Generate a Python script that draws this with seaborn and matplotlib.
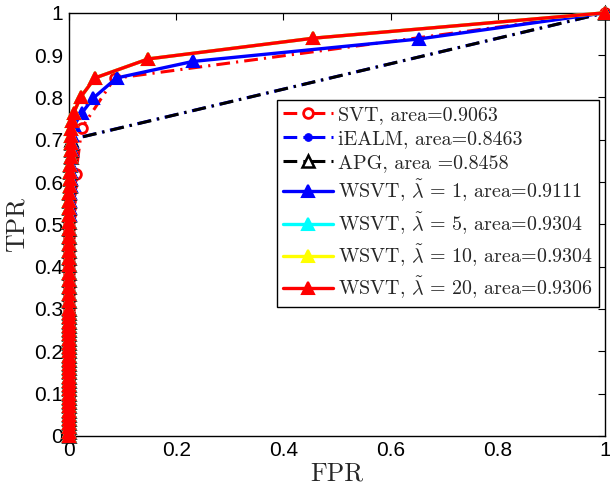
import matplotlib
matplotlib.use("Agg")
import matplotlib.pyplot as plt
import seaborn as sns

# ---------------- data ----------------
stack_tpr = [0.0, 0.01, 0.02, 0.03, 0.04, 0.05, 0.06, 0.07, 0.08, 0.09,
             0.10, 0.11, 0.12, 0.13, 0.14, 0.15, 0.16, 0.17, 0.18, 0.19,
             0.20, 0.21, 0.22, 0.23, 0.24, 0.25, 0.26, 0.27, 0.28, 0.29,
             0.30, 0.318, 0.335, 0.352, 0.369, 0.386, 0.403, 0.420, 0.437,
             0.454, 0.471, 0.488, 0.505, 0.522, 0.539, 0.556, 0.573, 0.590,
             0.607, 0.624, 0.641, 0.658, 0.675, 0.692]
stack_fpr_a = [0.0] * 40 + [0.0, 0.0, 0.001, 0.001, 0.001, 0.001, 0.001,
                            0.002, 0.002, 0.002, 0.002, 0.003, 0.003, 0.003]
stack_fpr_b = [0.0] * 40 + [0.001, 0.001, 0.001, 0.002, 0.002, 0.002, 0.002,
                            0.003, 0.003, 0.003, 0.004, 0.004, 0.005, 0.005]

svt_fpr = stack_fpr_b[:50] + [0.013, 0.024, 0.085, 1.0]
svt_tpr = stack_tpr[:50] + [0.62, 0.728, 0.845, 1.0]

iealm_fpr = stack_fpr_a + [0.002, 1.0]
iealm_tpr = stack_tpr + [0.70, 1.0]

apg_fpr = stack_fpr_a + [0.003, 1.0]
apg_tpr = stack_tpr + [0.70, 1.0]

wsvt1_fpr = stack_fpr_b + [0.006, 0.010, 0.024, 0.045, 0.089, 0.231, 0.652, 1.0]
wsvt1_tpr = stack_tpr + [0.712, 0.735, 0.763, 0.798, 0.846, 0.885, 0.938, 1.0]

wsvt20_fpr = stack_fpr_a + [0.003, 0.004, 0.006, 0.009, 0.022, 0.0485, 0.148, 0.456, 1.0]
wsvt20_tpr = stack_tpr + [0.709, 0.726, 0.744, 0.764, 0.801, 0.846, 0.891, 0.940, 1.0]

wsvt5_fpr = wsvt20_fpr
wsvt5_tpr = wsvt20_tpr
wsvt10_fpr = wsvt20_fpr
wsvt10_tpr = wsvt20_tpr

labels = [
    "SVT, area=0.9063",
    "iEALM, area=0.8463",
    "APG, area =0.8458",
    r"WSVT, $\tilde{\lambda}$ = 1, area=0.9111",
    r"WSVT, $\tilde{\lambda}$ = 5, area=0.9304",
    r"WSVT, $\tilde{\lambda}$ = 10, area=0.9304",
    r"WSVT, $\tilde{\lambda}$ = 20, area=0.9306",
]
xtick_vals = [0, 0.2, 0.4, 0.6, 0.8, 1]
xtick_labels = ["0", "0.2", "0.4", "0.6", "0.8", "1"]
ytick_vals = [0, 0.1, 0.2, 0.3, 0.4, 0.5, 0.6, 0.7, 0.8, 0.9, 1]
ytick_labels = ["0", "0.1", "0.2", "0.3", "0.4", "0.5", "0.6", "0.7", "0.8", "0.9", "1"]

# ---------------- style ----------------
sns.set_style("white")
plt.rcParams["font.family"] = ["Liberation Sans", "DejaVu Sans"]
plt.rcParams["mathtext.fontset"] = "cm"

fig = plt.figure(figsize=(6.1, 4.92), dpi=100)
ax = fig.add_axes([0.113, 0.114, 0.879, 0.86])

dashdot = (4.5, 2.0, 0.7, 2.0)
series = [
    (svt_fpr, svt_tpr, dict(color="red", dashes=dashdot, linewidth=2.2, marker="o",
                            markersize=7, markerfacecolor="white", markeredgecolor="red",
                            markeredgewidth=2)),
    (iealm_fpr, iealm_tpr, dict(color="blue", dashes=dashdot, linewidth=2.2, marker="o",
                                markersize=5.5, markerfacecolor="blue", markeredgecolor="blue")),
    (apg_fpr, apg_tpr, dict(color="black", dashes=dashdot, linewidth=2.2, marker="^",
                            markersize=8, markerfacecolor="white", markeredgecolor="black",
                            markeredgewidth=1.8)),
    (wsvt1_fpr, wsvt1_tpr, dict(color="blue", linestyle="-", linewidth=2.4, marker="^",
                                markersize=8.5, markerfacecolor="blue", markeredgecolor="blue",
                                markeredgewidth=1.5)),
    (wsvt5_fpr, wsvt5_tpr, dict(color="cyan", linestyle="-", linewidth=2.4, marker="^",
                                markersize=8.5, markerfacecolor="cyan", markeredgecolor="cyan",
                                markeredgewidth=1.5)),
    (wsvt10_fpr, wsvt10_tpr, dict(color="yellow", linestyle="-", linewidth=2.4, marker="^",
                                  markersize=8.5, markerfacecolor="yellow", markeredgecolor="yellow",
                                  markeredgewidth=1.5)),
    (wsvt20_fpr, wsvt20_tpr, dict(color="red", linestyle="-", linewidth=2.4, marker="^",
                                  markersize=8.5, markerfacecolor="red", markeredgecolor="red",
                                  markeredgewidth=1.5)),
]

zorders = [3, 4, 5, 6, 7, 8, 9]
for (xs, ys, kw), lab, z in zip(series, labels, zorders):
    sns.lineplot(x=xs, y=ys, sort=False, estimator=None, ax=ax, label=lab,
                 clip_on=False, zorder=z, **kw)

ax.set_xlim(0, 1)
ax.set_ylim(0, 1)
ax.set_xticks(xtick_vals)
ax.set_xticklabels(xtick_labels)
ax.set_yticks(ytick_vals)
ax.set_yticklabels(ytick_labels)
ax.tick_params(direction="in", length=5, width=0.8, top=True, right=True,
               labelsize=15, colors="black", pad=4)
for s in ax.spines.values():
    s.set_visible(True)
    s.set_color("black")
    s.set_linewidth(1.0)

ax.set_xlabel("FPR", family=["cmr10", "DejaVu Serif"], fontsize=18.5, labelpad=1)
ax.set_ylabel("TPR", family=["cmr10", "DejaVu Serif"], fontsize=18.5, labelpad=4)

leg = ax.legend(loc="upper left", bbox_to_anchor=(0.388, 0.794), numpoints=1,
                handlelength=2.5, handletextpad=0.25, labelspacing=0.3,
                borderpad=0.3, borderaxespad=0, fancybox=False, framealpha=1,
                edgecolor="black", prop={"family": ["cmr10", "DejaVu Serif"], "size": 14.4})
leg.get_frame().set_linewidth(1.0)
leg.set_zorder(20)

fig.savefig("out.png", dpi=100)
